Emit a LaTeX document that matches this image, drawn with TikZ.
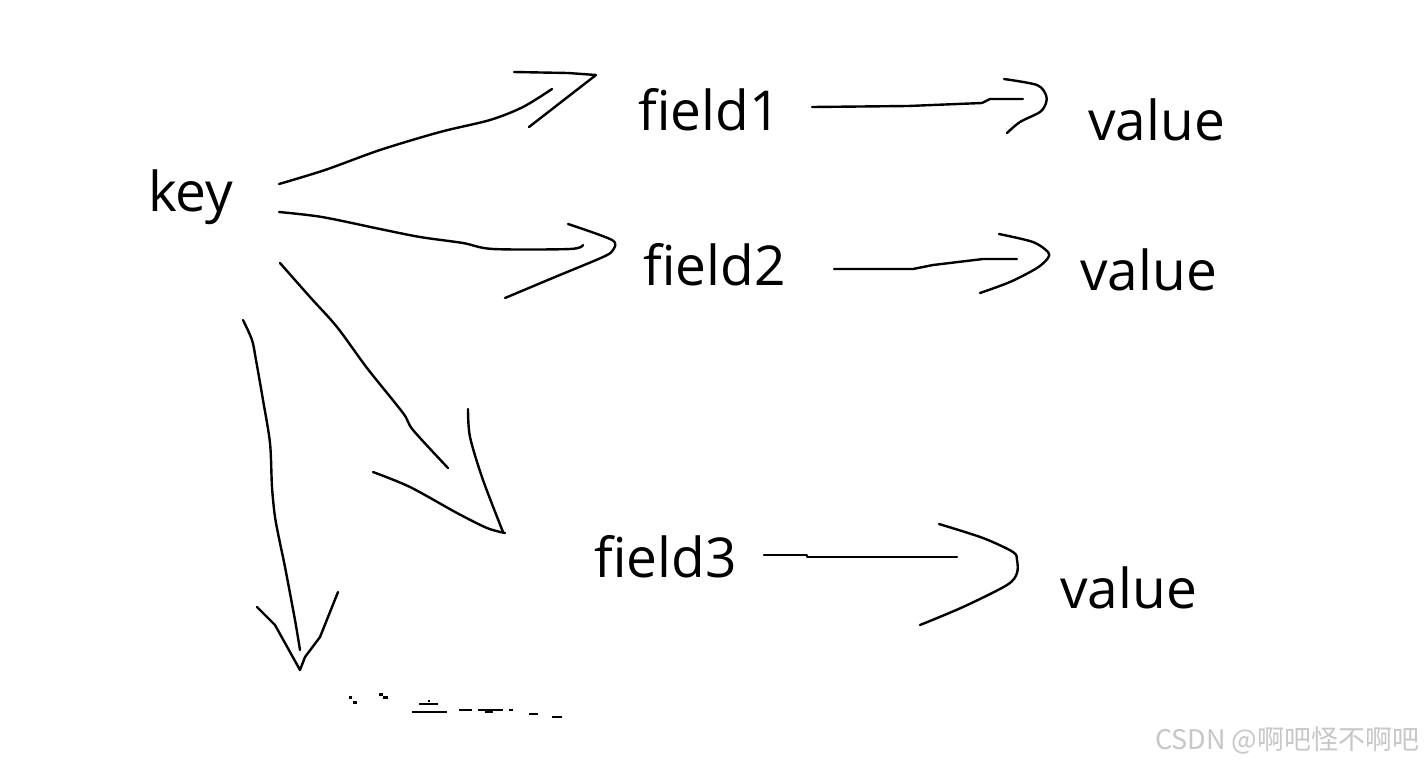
\documentclass[tikz,border=0pt]{standalone}
\usepackage{fontspec}
\setmainfont{Open Sans}
\newfontfamily\cjk{Noto Sans CJK SC}
\begin{document}
\begin{tikzpicture}[x=1pt,y=-1pt,
  lbl/.style={anchor=base west,inner sep=0pt,font=\fontsize{55}{60}\selectfont},
  stroke/.style={line width=2.4pt,line join=round,line cap=round},
  thin stroke/.style={line width=2pt,line cap=butt}]
\fill[white] (0,0) rectangle (1426,764);
\useasboundingbox (0,0) rectangle (1426,764);
% labels
\node[lbl] (key) at (148,211) {key};
\node[lbl] (f1) at (638,130) {field1};
\node[lbl] (v1) at (1088,140) {value};
\node[lbl] (f2) at (643,285) {field2};
\node[lbl] (v2) at (1080,290) {value};
\node[lbl] (f3) at (594,577) {field3};
\node[lbl] (v3) at (1060,608) {value};
% key -> field1
\draw[stroke] plot[smooth] coordinates {(279,184) (325,170) (380,150) (440,132) (490,120) (523,107) (552,89)};
\draw[stroke] (514,72) -- (568,73) -- (596,75) -- (529,127);
% key -> field2
\draw[stroke] plot[smooth] coordinates {(279,212) (322,217) (380,229) (420,237) (463,243) (493,249) (570,249) (583,245)};
\draw[stroke] plot[smooth] coordinates {(568,224) (612,240) (613,250) (603,257) (555,277) (505,298)};
% key -> field3
\draw[stroke] plot[smooth] coordinates {(280,263) (310,297) (337,327) (367,368) (403,413) (413,430) (448,468)};
\draw[stroke] plot[smooth] coordinates {(468,409) (470,437) (483,480) (503,532)};
\draw[stroke] plot[smooth] coordinates {(373,472) (410,487) (457,513) (487,528) (505,533)};
% key -> down
\draw[stroke] plot[smooth] coordinates {(243,320) (252,340) (256,360) (263,400) (270,443) (272,487) (275,517) (280,543) (285,567) (295,620) (300,650)};
\draw[stroke] (257,607) -- (275,625) -- (300,670) -- (305,657) -- (320,637) -- (338,592);
% field1 -> value
\draw[stroke] (812,107) -- (908,106) -- (982,103) -- (990,99) -- (1023,99);
\draw[stroke] plot[smooth] coordinates {(1004,79) (1037,85) (1046,95) (1046,103) (1040,112) (1020,122) (1007,133)};
% field2 -> value
\draw[stroke] (834,269) -- (913,269) -- (933,265) -- (983,259) -- (1017,259);
\draw[stroke] plot[smooth] coordinates {(999,234) (1033,242) (1048,252) (1048,258) (1037,268) (1010,282) (980,293)};
% field3 -> value
\draw[stroke] (764,555) -- (807,555) -- (807,557) -- (957,557);
\draw[stroke] plot[smooth] coordinates {(939,524) (983,538) (1013,552) (1017,560) (1017,573) (1007,585) (963,607) (920,625)};
% faint dashes at bottom
\fill (349,696) rectangle (352,699);
\fill (353,701) rectangle (357,704);
\fill (379,693) rectangle (383,696);
\fill (383,696) rectangle (388,699);
\draw[thin stroke] (419,704) -- (438,704);
\draw[thin stroke] (428,701) -- (430,701);
\draw[thin stroke] (412,712) -- (447,712);
\draw[thin stroke] (459,710) -- (472,710);
\draw[thin stroke] (478,710) -- (503,710);
\draw[thin stroke] (485,712) -- (493,712);
\draw[thin stroke] (509,710) -- (513,710);
\draw[thin stroke] (529,714) -- (538,714);
\draw[thin stroke] (552,717) -- (562,717);
% watermark
\node[anchor=base west,inner sep=0pt,text=black!22,font=\cjk\fontsize{27}{30}\selectfont] (wm) at (1155,749) {CSDN @啊吧怪不啊吧};
\end{tikzpicture}
\end{document}
